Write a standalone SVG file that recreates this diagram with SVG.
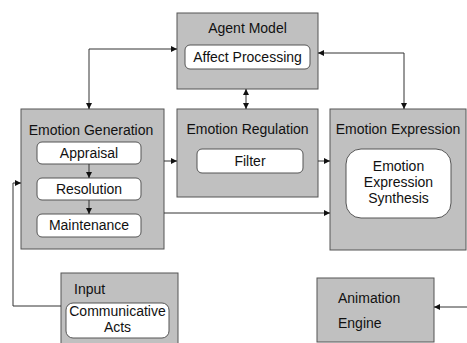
<svg xmlns="http://www.w3.org/2000/svg" width="467" height="343" viewBox="0 0 467 343">
<defs>
<style>
.box{fill:#c0c0c0;stroke:#555;stroke-width:1}
.inner{fill:#fff;stroke:#555;stroke-width:1}
text{font-family:"Liberation Sans",Arial,sans-serif;font-size:14px;fill:#111}
.c{text-anchor:middle}
.ln{fill:none;stroke:#333;stroke-width:1}
</style>
<marker id="ah" viewBox="0 0 10 10" refX="10" refY="5" markerWidth="6" markerHeight="6" orient="auto-start-reverse" markerUnits="userSpaceOnUse">
<path d="M0,0 L10,5 L0,10 z" fill="#111"/>
</marker>
</defs>
<rect width="467" height="343" fill="#fff"/>
<g id="agent-model">
<rect class="box" x="177" y="13" width="141" height="76"/>
<text class="c" x="247.5" y="33">Agent Model</text>
<rect class="inner" x="185" y="45" width="125" height="24" rx="5"/>
<text class="c" x="247.5" y="62">Affect Processing</text>
</g>
<g id="emotion-generation">
<rect class="box" x="21" y="109" width="143" height="140"/>
<text class="c" x="91" y="135">Emotion Generation</text>
<rect class="inner" x="37" y="142" width="104" height="22" rx="5"/>
<text class="c" x="89" y="158">Appraisal</text>
<rect class="inner" x="37" y="178" width="104" height="22" rx="5"/>
<text class="c" x="89" y="194">Resolution</text>
<rect class="inner" x="37" y="214" width="104" height="23" rx="5"/>
<text class="c" x="89" y="230">Maintenance</text>
</g>
<g id="emotion-regulation">
<rect class="box" x="177" y="109" width="141" height="88"/>
<text class="c" x="247.5" y="134">Emotion Regulation</text>
<rect class="inner" x="197" y="149" width="106" height="24" rx="5"/>
<text class="c" x="250" y="166">Filter</text>
</g>
<g id="emotion-expression">
<rect class="box" x="330" y="109" width="136" height="141"/>
<text class="c" x="398" y="134">Emotion Expression</text>
<rect class="inner" x="346" y="149" width="105" height="69" rx="15"/>
<text class="c" x="398.5" y="171">Emotion</text>
<text class="c" x="398.5" y="187">Expression</text>
<text class="c" x="398.5" y="203">Synthesis</text>
</g>
<g id="input">
<rect class="box" x="61" y="273" width="117" height="75"/>
<text x="74" y="294">Input</text>
<rect class="inner" x="66" y="303" width="103" height="35" rx="7"/>
<text class="c" x="117.5" y="316">Communicative</text>
<text class="c" x="117.5" y="332">Acts</text>
</g>
<g id="animation-engine">
<rect class="box" x="317" y="278" width="117" height="64"/>
<text x="338" y="303">Animation</text>
<text x="338" y="328">Engine</text>
</g>
<g id="connectors">
<polyline class="ln" points="89,109 89,49 177,49" marker-start="url(#ah)" marker-end="url(#ah)"/>
<line class="ln" x1="246" y1="89" x2="246" y2="109" marker-start="url(#ah)" marker-end="url(#ah)"/>
<polyline class="ln" points="318,53 404,53 404,109" marker-start="url(#ah)" marker-end="url(#ah)"/>
<line class="ln" x1="164" y1="161" x2="177" y2="161" marker-end="url(#ah)"/>
<line class="ln" x1="318" y1="161" x2="330" y2="161" marker-end="url(#ah)"/>
<line class="ln" x1="164" y1="213" x2="330" y2="213" marker-end="url(#ah)"/>
<line class="ln" x1="89" y1="164" x2="89" y2="178" marker-end="url(#ah)"/>
<line class="ln" x1="89" y1="200" x2="89" y2="214" marker-end="url(#ah)"/>
<polyline class="ln" points="61,306 13,306 13,183 21,183" marker-end="url(#ah)"/>
<line class="ln" x1="467" y1="307" x2="434" y2="307" marker-end="url(#ah)"/>
</g>
</svg>
